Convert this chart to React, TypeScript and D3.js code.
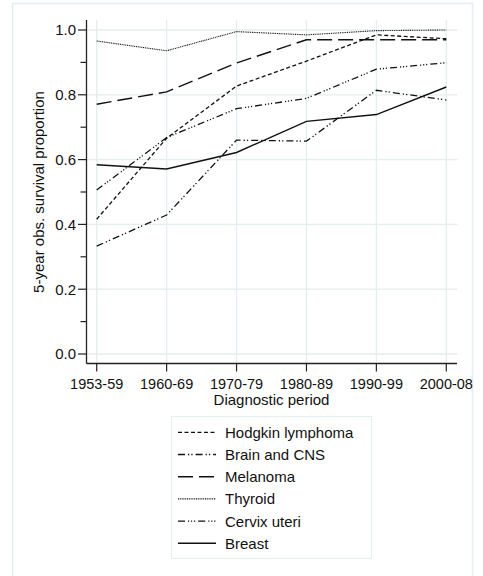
import React from "react";
import * as d3 from "d3";

const periods = ["1953-59", "1960-69", "1970-79", "1980-89", "1990-99", "2000-08"];
const hodgkin = [0.416, 0.666, 0.827, 0.904, 0.985, 0.973];
const brain = [0.333, 0.429, 0.660, 0.657, 0.814, 0.784];
const melanoma = [0.771, 0.809, 0.898, 0.970, 0.970, 0.970];
const thyroid = [0.966, 0.936, 0.995, 0.985, 0.998, 1.0];
const cervix = [0.506, 0.668, 0.757, 0.789, 0.879, 0.899];
const breast = [0.584, 0.571, 0.622, 0.718, 0.739, 0.824];
const seriesNames = ["Hodgkin lymphoma", "Brain and CNS", "Melanoma", "Thyroid", "Cervix uteri", "Breast"];
const yTicks = [0, 0.2, 0.4, 0.6, 0.8, 1.0];
const yMinor = [0.1, 0.3, 0.5, 0.7, 0.9];

const seriesValues = [hodgkin, brain, melanoma, thyroid, cervix, breast];
const dashes = ["4,2.5", "7,3,1.3,2,1.3,3", "15,6", "1,0.8", "7,3,1.2,1.8,1.2,1.8,1.2,3", ""];
const widths = [1.3, 1.3, 1.4, 1.1, 1.3, 1.4];

const W = 483, H = 576;
const FONT = "'Liberation Sans', Arial, sans-serif";
const GRID = "#e4edef";

export default function App() {
  const x = d3.scalePoint<string>().domain(periods).range([96.7, 446.3]);
  const y = d3.scaleLinear().domain([0, 1]).range([354, 30]);
  const line = d3
    .line<number>()
    .x((_, i) => x(periods[i]) as number)
    .y((d) => y(d));
  const axL = 86.5, axB = 363.5, axT = 20, axR = 457;
  const legX = 171, legY = 416, legRow = 22.2;

  return (
    <svg width={W} height={H} style={{ position: "absolute", left: 0, top: 0, background: "#fff" }} fontFamily={FONT}>
      <rect x={12.5} y={3.5} width={460} height={H + 10} fill="#fff" stroke={GRID} strokeWidth={1.5} />
      {/* grid */}
      {yTicks.map((t) => (
        <line key={"gy" + t} x1={axL} x2={axR} y1={y(t)} y2={y(t)} stroke={GRID} strokeWidth={1.3} />
      ))}
      {periods.map((p) => (
        <line key={"gx" + p} x1={x(p)} x2={x(p)} y1={axT} y2={axB} stroke={GRID} strokeWidth={1.3} />
      ))}
      {/* series */}
      {seriesValues.map((vals, i) => (
        <path
          key={seriesNames[i]}
          d={line(vals) as string}
          fill="none"
          stroke="#111"
          strokeWidth={widths[i]}
          strokeDasharray={dashes[i] || undefined}
        />
      ))}
      {/* axes */}
      <line x1={axL} x2={axL} y1={axT} y2={axB} stroke="#222" strokeWidth={1.3} />
      <line x1={axL} x2={axR} y1={axB} y2={axB} stroke="#222" strokeWidth={1.3} />
      {yTicks.map((t) => (
        <g key={"ty" + t}>
          <line x1={axL - 8.5} x2={axL} y1={y(t)} y2={y(t)} stroke="#222" strokeWidth={1.2} />
          <text x={76} y={y(t)} dy="0.36em" textAnchor="end" fontSize={15} fill="#111">
            {d3.format(".1f")(t)}
          </text>
        </g>
      ))}
      {yMinor.map((t) => (
        <line key={"my" + t} x1={axL - 6} x2={axL} y1={y(t)} y2={y(t)} stroke="#222" strokeWidth={1.2} />
      ))}
      {periods.map((p) => (
        <g key={"tx" + p}>
          <line x1={x(p)} x2={x(p)} y1={axB} y2={axB + 8} stroke="#222" strokeWidth={1.2} />
          <text x={x(p)} y={389} textAnchor="middle" fontSize={14.5} fill="#111">
            {p}
          </text>
        </g>
      ))}
      <text x={271.5} y={405} textAnchor="middle" fontSize={15} fill="#111">
        Diagnostic period
      </text>
      <text transform="translate(44,192) rotate(-90)" textAnchor="middle" fontSize={15} fill="#111">
        5-year obs. survival proportion
      </text>
      {/* legend */}
      <rect x={legX + 0.5} y={legY + 0.5} width={200} height={142} fill="#fff" stroke={GRID} strokeWidth={1} />
      {seriesNames.map((n, i) => {
        const cy = 432.3 + i * legRow;
        return (
          <g key={"lg" + n}>
            <line x1={178} x2={216} y1={cy} y2={cy} stroke="#111" strokeWidth={widths[i]} strokeDasharray={dashes[i] || undefined} />
            <text x={225} y={cy} dy="0.36em" fontSize={15} fill="#111">
              {n}
            </text>
          </g>
        );
      })}
    </svg>
  );
}
